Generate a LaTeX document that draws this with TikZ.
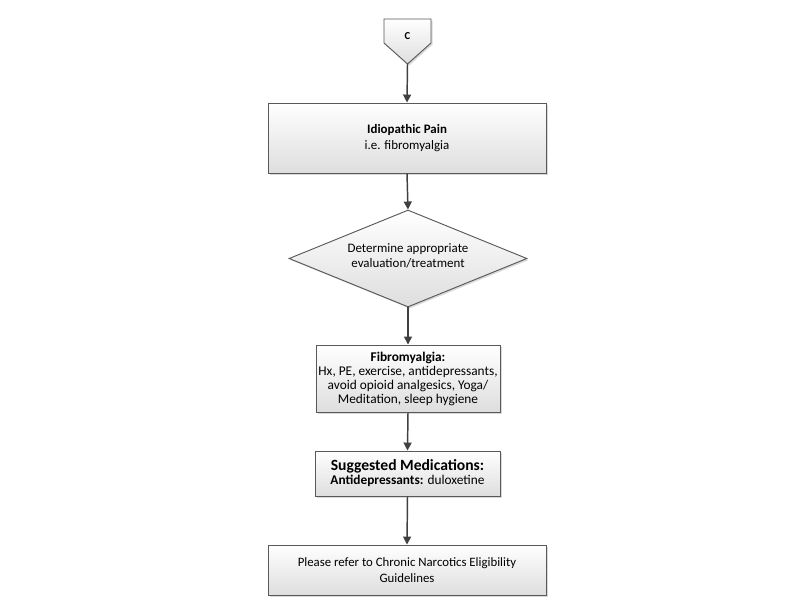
\documentclass[tikz,border=0pt]{standalone}
\usepackage{fontspec}
\setmainfont{Carlito}
\usetikzlibrary{shapes.geometric,shadows,arrows.meta}
\tikzset{
  box/.style={draw=black!65, line width=0.7pt, top color=white, bottom color=black!13,
    drop shadow={shadow xshift=1.2pt, shadow yshift=-1.2pt, fill=black!25, opacity=0.6},
    align=center, inner sep=0pt, font=\fontsize{10}{10.5}\selectfont},
  flow/.style={draw=black!75, line width=1.1pt, -{Triangle[length=6pt,width=6pt]}}
}
\begin{document}
\begin{tikzpicture}[x=0.75pt,y=-0.75pt]
\useasboundingbox (0,0) rectangle (800,600);
% off-page connector
\path[box] (384,19) -- (431,19) -- (431,43) -- (407.5,64) -- (384,43) -- cycle;
\node[font=\fontsize{8}{9}\bfseries\selectfont] (c) at (407.5,36) {C};
\coordinate (cbot) at (407.5,64);
\node[box, minimum width=278*0.75pt, minimum height=70*0.75pt, font=\fontsize{9.7}{11.5}\selectfont] (idio) at (407,138)
  {\textbf{Idiopathic Pain}\\i.e. fibromyalgia};
\node[box, diamond, aspect=2.45, minimum width=238*0.75pt, minimum height=97*0.75pt] (det) at (408,258.5)
  {};
\node[align=center, font=\fontsize{9.7}{11.5}\selectfont] (dett) at (408,256) {Determine appropriate\\evaluation/treatment};
\node[box, minimum width=184*0.75pt, minimum height=67*0.75pt] (fib) at (408,378.5)
  {\textbf{Fibromyalgia:}\\Hx, PE, exercise, antidepressants,\\avoid opioid analgesics, Yoga/\\Meditation, sleep hygiene};
\node[box, minimum width=185*0.75pt, minimum height=45*0.75pt] (med) at (407.5,473.5)
  {{\fontsize{11.7}{14}\selectfont\textbf{Suggested Medications:}}\\\textbf{Antidepressants:} duloxetine};
\node[box, minimum width=278*0.75pt, minimum height=50*0.75pt, font=\fontsize{9.6}{12}\selectfont] (ref) at (407,570)
  {Please refer to Chronic Narcotics Eligibility\\Guidelines};
\draw[flow] (cbot) -- (idio.north);
\draw[flow] (idio.south) -- (det.north);
\draw[flow] (det.south) -- (fib.north);
\draw[flow] (fib.south) -- (med.north);
\draw[flow] (med.south) -- (ref.north);
\end{tikzpicture}
\end{document}
